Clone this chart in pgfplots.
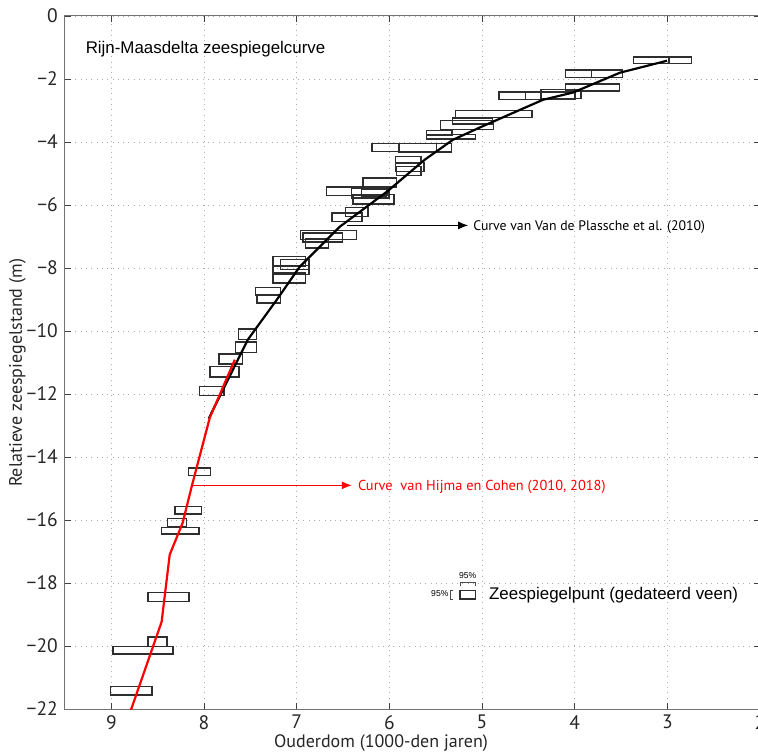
\documentclass[border=0pt]{standalone}
\usepackage{pgfplots}
\pgfplotsset{compat=1.18}
\usepackage{pgfplotstable}
\usetikzlibrary{arrows.meta}
\usepackage{fontspec}
\setmainfont{PT Sans}
\newfontfamily\arial{Liberation Sans}

\pgfplotstableread{
xa xb ya yb
3.367 2.989 -1.302 -1.514
2.978 2.741 -1.302 -1.514
4.097 3.816 -1.714 -1.949
3.816 3.482 -1.714 -1.949
4.097 3.518 -2.159 -2.381
4.818 3.989 -2.413 -2.657
4.364 3.932 -2.340 -2.625
4.529 3.997 -2.413 -2.657
5.285 4.461 -2.997 -3.229
5.317 4.886 -3.238 -3.429
5.447 4.879 -3.324 -3.610
5.598 5.322 -3.632 -3.790
5.598 5.069 -3.768 -3.905
6.186 5.490 -4.044 -4.298
5.897 5.328 -4.044 -4.317
5.933 5.660 -4.457 -4.667
5.933 5.624 -4.648 -4.933
5.922 5.660 -4.775 -5.070
6.283 5.922 -5.143 -5.429
6.678 6.013 -5.429 -5.705
6.408 6.005 -5.460 -5.778
6.300 6.030 -5.514 -5.736
6.391 5.948 -5.673 -5.968
6.473 6.229 -6.076 -6.362
6.617 6.294 -6.254 -6.520
6.956 6.354 -6.806 -7.102
6.931 6.505 -6.889 -7.175
6.902 6.654 -7.070 -7.365
7.255 6.902 -7.632 -7.949
7.175 6.866 -7.737 -8.054
7.255 6.866 -7.927 -8.213
7.255 6.902 -8.159 -8.476
7.442 7.175 -8.616 -8.879
7.428 7.175 -8.848 -9.111
7.626 7.434 -9.937 -10.276
7.661 7.434 -10.349 -10.679
7.838 7.585 -10.730 -11.048
7.935 7.622 -11.124 -11.460
8.046 7.784 -11.759 -12.054
8.165 7.931 -14.349 -14.584
8.313 8.025 -15.568 -15.810
8.395 8.190 -15.949 -16.222
8.457 8.054 -16.235 -16.445
8.605 8.162 -18.298 -18.594
8.605 8.400 -19.714 -20.013
8.983 8.335 -20.013 -20.254
9.008 8.561 -21.283 -21.556
}\boxes

\pgfplotstableread{
x y
7.949 -12.78
7.528 -10.28
7.215 -9.01
6.967 -7.96
6.535 -6.69
6.027 -5.58
5.617 -4.56
5.314 -3.93
5.001 -3.51
4.342 -2.66
4.018 -2.43
3.511 -1.80
3.003 -1.42
}\plassche

\pgfplotstableread{
x y
7.667 -10.91
7.937 -12.75
8.133 -14.94
8.230 -16.09
8.370 -17.10
8.457 -19.23
8.820 -22.30
}\hijma

\pgfplotstablegetrowsof{\boxes}
\pgfmathtruncatemacro{\nb}{\pgfplotsretval-1}

\tikzset{boxst/.style={draw=black!82, line width=1.4pt, mark=none}}

\begin{document}
\begin{tikzpicture}
\begin{axis}[
  scale only axis, width=695pt, height=693pt,
  x dir=reverse, xmin=2, xmax=9.5, ymin=-22, ymax=0,
  xtick={2,3,4,5,6,7,8,9},
  xticklabels={2,3,4,5,6,7,8,9},
  ytick={-22,-20,-18,-16,-14,-12,-10,-8,-6,-4,-2,0},
  yticklabels={−22,−20,−18,−16,−14,−12,−10,−8,−6,−4,−2,0},
  ticklabel style={font=\fontsize{19.5}{21}\selectfont, inner sep=0pt, text=black!85},
  xticklabel style={anchor=north, yshift=-6pt},
  yticklabel style={anchor=east, xshift=-7pt},
  grid=major,
  major grid style={line width=0.8pt, gray!65, dash pattern=on 0.8pt off 4.5pt},
  tick align=inside, major tick length=6pt,
  tick style={black!75, line width=0.7pt},
  axis line style={black!55, line width=1pt},
  xlabel={Ouderdom (1000-den jaren)},
  ylabel={Relatieve zeespiegelstand (m)},
  label style={font=\fontsize{18}{20}\selectfont, inner sep=0pt, text=black!85},
  xlabel style={at={(axis description cs:0.4547,-0.0550)}, anchor=base},
  ylabel style={at={(axis description cs:-0.0619,0.485)}, anchor=base, rotate=0},
  clip=true,
]
\pgfplotsforeachungrouped \i in {0,...,\nb}{
  \pgfplotstablegetelem{\i}{xa}\of\boxes \let\xa\pgfplotsretval
  \pgfplotstablegetelem{\i}{xb}\of\boxes \let\xb\pgfplotsretval
  \pgfplotstablegetelem{\i}{ya}\of\boxes \let\ya\pgfplotsretval
  \pgfplotstablegetelem{\i}{yb}\of\boxes \let\yb\pgfplotsretval
  \edef\temp{\noexpand\addplot[boxst] coordinates {(\xa,\ya) (\xb,\ya) (\xb,\yb) (\xa,\yb)} -- cycle;}
  \temp
}
\addplot[black, line width=2.2pt, mark=none] table[x=x,y=y] {\plassche};
\addplot[red, line width=2.2pt, mark=none] table[x=x,y=y] {\hijma};

% annotations
\node[anchor=base west, inner sep=0pt, font=\arial\fontsize{16.9}{18}\selectfont] at (axis cs:9.278,-1.175) {Rijn-Maasdelta zeespiegelcurve};
\draw[black, line width=1.1pt, -{Latex[length=10pt,width=8pt]}] (axis cs:6.46,-6.648) -- (axis cs:5.149,-6.648);
\node[anchor=base west, inner sep=0pt, font=\fontsize{13.8}{15}\selectfont] at (axis cs:5.095,-6.806) {Curve van Van de Plassche et al. (2010)};
\draw[red, line width=1.1pt, -{Latex[length=10pt,width=8pt]}] (axis cs:8.133,-14.90) -- (axis cs:6.405,-14.90);
\node[anchor=base west, inner sep=0pt, text=red, font=\fontsize{14.4}{16}\selectfont] at (axis cs:6.340,-15.06) {Curve\ \ van Hijma en Cohen (2010, 2018)};

% legend
\draw[boxst] (axis cs:5.239,-18.235) rectangle (axis cs:5.069,-18.508);
\draw[black!70, line width=0.6pt] (axis cs:5.239,-18.11) -- (axis cs:5.239,-17.98) -- (axis cs:5.069,-17.98) -- (axis cs:5.069,-18.11);
\node[anchor=base, inner sep=0pt, font=\arial\fontsize{8.6}{9}\selectfont] at (axis cs:5.154,-17.87) {95\%};
\draw[black!70, line width=0.6pt] (axis cs:5.311,-18.235) -- (axis cs:5.339,-18.235) -- (axis cs:5.339,-18.508) -- (axis cs:5.311,-18.508);
\node[anchor=base east, inner sep=0pt, font=\arial\fontsize{8.6}{9}\selectfont] at (axis cs:5.36,-18.44) {95\%};
\node[anchor=base west, inner sep=0pt, font=\arial\fontsize{16.9}{18}\selectfont] at (axis cs:4.925,-18.51) {Zeespiegelpunt (gedateerd veen)};

\coordinate (O) at (axis description cs:0,0);
\end{axis}
\pgfresetboundingbox
\path[use as bounding box] ([shift={(-65pt,-44pt)}]O) rectangle ([shift={(693pt,709pt)}]O);
\end{tikzpicture}
\end{document}
